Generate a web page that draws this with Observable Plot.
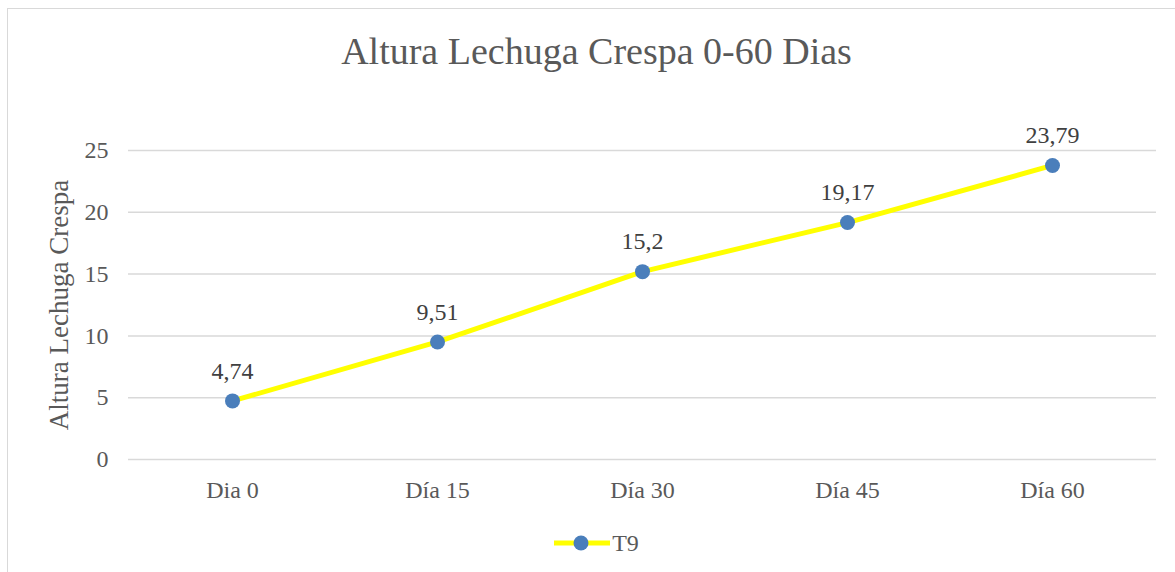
<!DOCTYPE html>
<html>
<head>
<meta charset="utf-8">
<script src="https://cdn.jsdelivr.net/npm/d3@7"></script>
<script src="https://cdn.jsdelivr.net/npm/@observablehq/plot@0.6"></script>
<style>
  html, body { margin: 0; padding: 0; background: #fff; }
  #wrap { position: relative; width: 1175px; height: 572px; overflow: hidden; font-family: "Liberation Serif", serif; }
  #frame { position: absolute; left: 7px; top: 8px; width: 1200px; height: 600px; border-left: 1.5px solid #d9d9d9; border-top: 1.5px solid #d9d9d9; box-sizing: border-box; }
  #title { position: absolute; left: 8px; width: 1177px; top: 32px; text-align: center; font-size: 38px; line-height: 38px; color: #595959; white-space: nowrap; }
  #chart { position: absolute; left: 0; top: 100px; }
  #legend { position: absolute; left: 8px; width: 1177px; top: 528px; height: 30px; display: flex; justify-content: center; align-items: center; font-size: 24px; color: #595959; }
  #legend svg { display: block; margin-right: 2px; }
</style>
</head>
<body>
<div id="wrap">
  <div id="frame"></div>
  <div id="title">Altura Lechuga Crespa 0-60 Dias</div>
  <div id="chart"></div>
  <div id="legend"></div>
</div>
<script>
const categories = ["Dia 0", "Día 15", "Día 30", "Día 45", "Día 60"];
const values = [4.74, 9.51, 15.2, 19.17, 23.79];
const yTicks = [0, 5, 10, 15, 20, 25];
const seriesName = "T9";
const yTitle = "Altura Lechuga Crespa";

const data = categories.map((c, i) => ({cat: c, v: values[i], label: String(values[i]).replace(".", ",")}));

const lineColor = "#ffff00";
const dotColor = "#4a7ebb";
const font = "Liberation Serif, serif";

const chart = Plot.plot({
  width: 1175,
  height: 410,
  marginLeft: 128,
  marginRight: 19,
  marginTop: 50,
  marginBottom: 51,
  style: {fontFamily: font, background: "transparent", overflow: "visible"},
  x: {type: "point", domain: categories, padding: 0.5, label: null},
  y: {domain: [0, 25], ticks: yTicks, label: null},
  marks: [
    Plot.ruleY(yTicks, {stroke: "#d9d9d9", strokeWidth: 1.5}),
    Plot.axisY({ticks: yTicks, tickSize: 0, tickPadding: 20, fontSize: 24, fill: "#595959", label: null}),
    Plot.axisX({tickSize: 0, tickPadding: 21, fontSize: 24, fill: "#595959", label: null}),
    Plot.text([yTitle], {frameAnchor: "left", textAnchor: "middle", dx: -69, rotate: -90, fontSize: 27, fill: "#595959"}),
    Plot.line(data, {x: "cat", y: "v", stroke: lineColor, strokeWidth: 5}),
    Plot.dot(data, {x: "cat", y: "v", r: 7.5, fill: dotColor, stroke: "none"}),
    Plot.text(data, {x: "cat", y: "v", text: "label", dy: -30, fontSize: 24, fill: "#404040"})
  ]
});
document.getElementById("chart").appendChild(chart);

// legend
const lg = document.getElementById("legend");
const ns = "http://www.w3.org/2000/svg";
const sw = document.createElementNS(ns, "svg");
sw.setAttribute("width", 56);
sw.setAttribute("height", 20);
sw.innerHTML = `<line x1="0" x2="56" y1="10" y2="10" stroke="${lineColor}" stroke-width="5"/><circle cx="27" cy="10" r="7.5" fill="${dotColor}"/>`;
lg.appendChild(sw);
const t = document.createElement("span");
t.textContent = seriesName;
lg.appendChild(t);
</script>
</body>
</html>
